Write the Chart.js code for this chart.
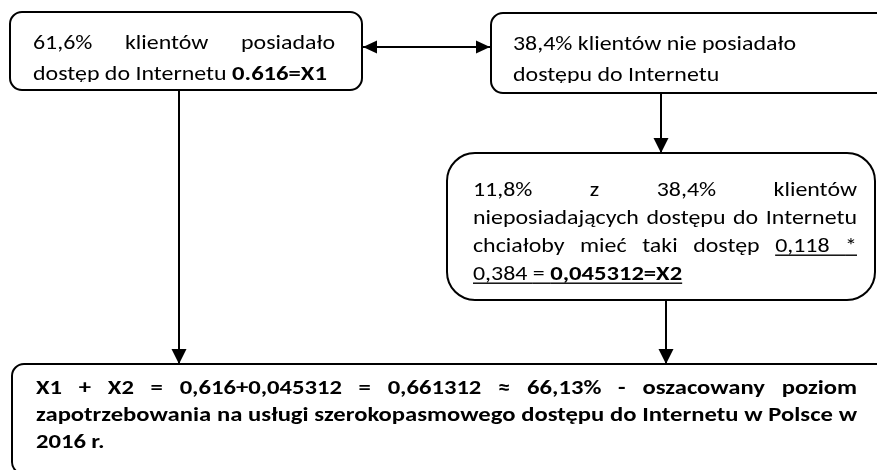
<!DOCTYPE html>
<html>
<head>
<meta charset="utf-8">
<script src="https://cdn.jsdelivr.net/npm/chart.js@4.4.0/dist/chart.umd.min.js"></script>
<style>
  html, body { margin: 0; padding: 0; background: #fff; }
  #wrap { width: 877px; height: 470px; position: relative; }
</style>
</head>
<body>
<div id="wrap"><canvas id="flow"></canvas></div>
<script>
// values from the diagram
const clientShares = [61.6, 38.4];      // % with / without internet access
const wantShare = 11.8;                 // % of the 38,4% who would like access
const factors = [0.118, 0.384];         // the product giving X2
const xValues = [0.616, 0.045312];      // X1, X2
const demandTotal = 0.661312;
const demandPct = 66.13;
const surveyYear = 2016;

const pl = v => String(v).replace('.', ',');

// w(text, bold, underline)
const w = (t, b, u) => ({ t: t, b: !!b, u: !!u });
const words = (s, b, u) => s.split(' ').map(t => w(t, b, u));

const boxTexts = [
  [
    { words: [w(pl(clientShares[0]) + '%'), w('klientów'), w('posiadało')], justify: true },
    { words: [...words('dostęp do Internetu'), w(xValues[0] + '=X1', true)], clip: true }
  ],
  [
    { words: words(pl(clientShares[1]) + '% klientów nie posiadało') },
    { words: words('dostępu do Internetu'), clip: true }
  ],
  [
    { words: words(pl(wantShare) + '% z ' + pl(clientShares[1]) + '% klientów'), justify: true },
    { words: words('nieposiadających dostępu do Internetu'), justify: true },
    { words: [...words('chciałoby mieć taki dostęp'), w(pl(factors[0]), false, true), w('*', false, true)], justify: true },
    { words: [w(pl(factors[1]), false, true), w('=', false, true), w(pl(xValues[1]) + '=X2', true, true)] }
  ],
  [
    { words: words('X1 + X2 = ' + pl(xValues[0]) + '+' + pl(xValues[1]) + ' = ' + pl(demandTotal) + ' ≈ ' + pl(demandPct) + '% - oszacowany poziom', true), justify: true },
    { words: words('zapotrzebowania na usługi szerokopasmowego dostępu do Internetu w Polsce w', true), justify: true },
    { words: words(surveyYear + ' r.', true) }
  ]
];

// layout of the flowchart (diagram units = pixels of the 877x470 picture)
const boxes = [
  { x0: 10, y0: 12, x1: 362, y1: 90, r: 12, tx: 33, tw: 302, base: [49, 80], clipY: 82, size: 21 },
  { x0: 491, y0: 13, x1: 905, y1: 93, r: 12, tx: 513, tw: 360, base: [50, 81], clipY: 83, size: 21 },
  { x0: 447, y0: 153, x1: 875, y1: 300, r: 28, tx: 473, tw: 384, base: [196, 224, 252, 280], size: 21 },
  { x0: 12, y0: 364, x1: 905, y1: 474, r: 12, tx: 36, tw: 821, base: [394, 421, 448], size: 21 }
];
const arrows = [
  { pts: [[363, 47], [490, 47]], heads: [0, 1], len: 14, half: 6.5 },
  { pts: [[179, 90], [179, 364]], heads: [1], len: 15, half: 7.5 },
  { pts: [[661, 93], [661, 153]], heads: [1], len: 15, half: 7.5 },
  { pts: [[666, 300], [666, 364]], heads: [1], len: 15, half: 7.5 }
];

const FAMILY = "Carlito, 'Open Sans', 'Noto Sans', sans-serif";
const fontOf = (b, size) => (b ? 'bold ' : '') + size + 'px ' + FAMILY;
let sxReg = 1, sxBold = 1;

function calibrate(ctx) {
  ctx.font = fontOf(false, boxes[1].size);
  sxReg = 283 / ctx.measureText(pl(clientShares[1]) + '% klientów nie posiadało').width;
  ctx.font = fontOf(true, boxes[3].size);
  const line2 = boxTexts[3][1].words.map(o => o.t).join(' ');
  sxBold = 819 / ctx.measureText(line2).width;
}

function drawLine(ctx, line, left, base, width, size) {
  const ws = line.words.map(o => {
    ctx.font = fontOf(o.b, size);
    const sx = o.b ? sxBold : sxReg;
    return Object.assign({ sx: sx, wd: ctx.measureText(o.t).width * sx }, o);
  });
  ctx.font = fontOf(false, size);
  const space = ctx.measureText(' ').width * sxReg;
  const total = ws.reduce((s, o) => s + o.wd, 0);
  let gap = space;
  if (line.justify && ws.length > 1) gap = (width - total) / (ws.length - 1);
  let px = left;
  ws.forEach((o, i) => {
    ctx.save();
    ctx.font = fontOf(o.b, size);
    ctx.translate(px, base);
    ctx.scale(o.sx, 1);
    ctx.fillText(o.t, 0, 0);
    ctx.restore();
    if (o.u) {
      const next = ws[i + 1];
      const end = px + o.wd + (next && next.u ? gap : 0);
      ctx.fillRect(px, base + 2.5, end - px, 1.4);
    }
    px += o.wd + gap;
  });
}

function roundBox(ctx, x0, y0, x1, y1, r) {
  ctx.beginPath();
  ctx.moveTo(x0 + r, y0);
  ctx.lineTo(x1 - r, y0);
  ctx.arcTo(x1, y0, x1, y0 + r, r);
  ctx.lineTo(x1, y1 - r);
  ctx.arcTo(x1, y1, x1 - r, y1, r);
  ctx.lineTo(x0 + r, y1);
  ctx.arcTo(x0, y1, x0, y1 - r, r);
  ctx.lineTo(x0, y0 + r);
  ctx.arcTo(x0, y0, x0 + r, y0, r);
  ctx.closePath();
}

const flowPlugin = {
  id: 'flow',
  beforeDatasetsDraw(chart) {
    const { ctx, scales: { x, y } } = chart;
    ctx.save();
    ctx.strokeStyle = '#000';
    ctx.lineWidth = 2;
    boxes.forEach(b => {
      roundBox(ctx, x.getPixelForValue(b.x0), y.getPixelForValue(b.y0),
        x.getPixelForValue(b.x1), y.getPixelForValue(b.y1), b.r);
      ctx.stroke();
    });
    ctx.restore();
  },
  afterDatasetsDraw(chart) {
    const { ctx, scales: { x, y } } = chart;
    calibrate(ctx);
    ctx.save();
    ctx.fillStyle = '#000';
    // arrow heads at the dataset points
    arrows.forEach((a, di) => {
      const pts = chart.getDatasetMeta(di).data;
      a.heads.forEach(hi => {
        const tip = pts[hi === 0 ? 0 : pts.length - 1];
        const from = pts[hi === 0 ? 1 : pts.length - 2];
        const ang = Math.atan2(tip.y - from.y, tip.x - from.x);
        const c = Math.cos(ang), s = Math.sin(ang);
        const bx = tip.x - c * a.len, by = tip.y - s * a.len;
        ctx.beginPath();
        ctx.moveTo(tip.x, tip.y);
        ctx.lineTo(bx - s * a.half, by + c * a.half);
        ctx.lineTo(bx + s * a.half, by - c * a.half);
        ctx.closePath();
        ctx.fill();
      });
    });
    // texts
    ctx.textBaseline = 'alphabetic';
    boxes.forEach((b, bi) => {
      boxTexts[bi].forEach((line, li) => {
        const base = y.getPixelForValue(b.base[li]);
        ctx.save();
        if (line.clip) {
          // the original text boxes cut off the bottom of their last line
          ctx.beginPath();
          ctx.rect(x.getPixelForValue(b.x0), y.getPixelForValue(b.y0),
            x.getPixelForValue(b.x1) - x.getPixelForValue(b.x0),
            y.getPixelForValue(b.clipY) - y.getPixelForValue(b.y0));
          ctx.clip();
        }
        drawLine(ctx, line, x.getPixelForValue(b.tx), base, b.tw, b.size);
        ctx.restore();
      });
    });
    ctx.restore();
  }
};

new Chart(document.getElementById('flow'), {
  type: 'scatter',
  data: {
    datasets: arrows.map(a => ({
      data: a.pts.map(p => ({ x: p[0], y: p[1] })),
      showLine: true,
      borderColor: '#000',
      borderWidth: 2,
      pointRadius: 0,
      fill: false
    }))
  },
  options: {
    responsive: true,
    maintainAspectRatio: false,
    animation: false,
    layout: { padding: 0 },
    scales: {
      x: { type: 'linear', min: 0, max: 877, display: false },
      y: { type: 'linear', min: 0, max: 470, reverse: true, display: false }
    },
    plugins: { legend: { display: false }, tooltip: { enabled: false } }
  },
  plugins: [flowPlugin]
});
</script>
</body>
</html>
